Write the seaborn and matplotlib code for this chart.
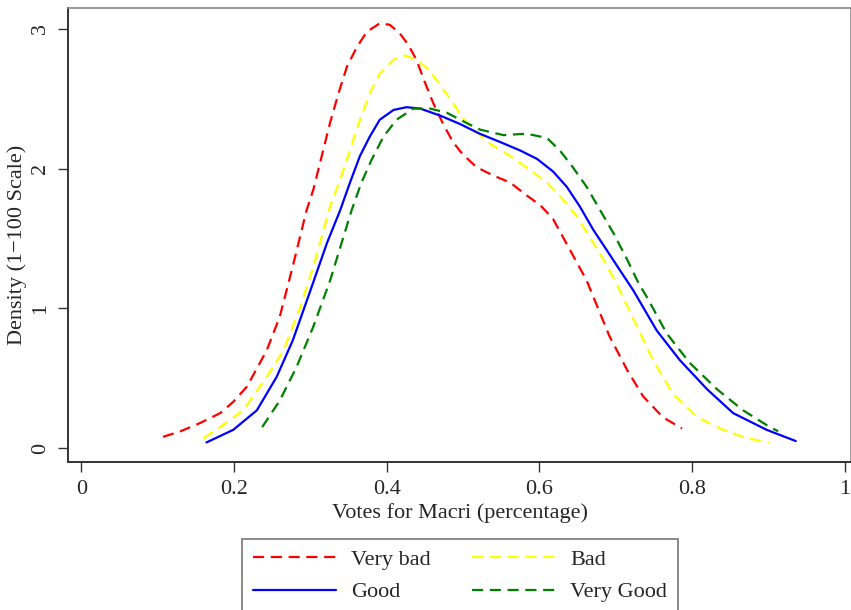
import numpy as np
import pandas as pd
import matplotlib
matplotlib.use("Agg")
import matplotlib.pyplot as plt
import seaborn as sns

# values (density curves)
very_bad_x = [0.107, 0.130, 0.156, 0.182, 0.199, 0.217, 0.243, 0.260, 0.277, 0.295, 0.304,
              0.315, 0.326, 0.337, 0.348, 0.361, 0.374, 0.391, 0.404, 0.417, 0.428, 0.439,
              0.450, 0.461, 0.474, 0.487, 0.500, 0.518, 0.540, 0.562, 0.583, 0.601, 0.618,
              0.631, 0.645, 0.662, 0.692, 0.715, 0.736, 0.762, 0.787]
very_bad_y = [0.08, 0.12, 0.18, 0.25, 0.33, 0.44, 0.70, 0.94, 1.30, 1.70, 1.85,
              2.09, 2.33, 2.54, 2.73, 2.87, 2.98, 3.04, 3.03, 2.97, 2.89, 2.78,
              2.62, 2.47, 2.32, 2.19, 2.10, 2.01, 1.95, 1.90, 1.81, 1.74, 1.64,
              1.51, 1.37, 1.20, 0.80, 0.56, 0.37, 0.22, 0.14]

bad_x = [0.160, 0.182, 0.212, 0.243, 0.265, 0.287, 0.304, 0.326, 0.339, 0.352, 0.365,
         0.378, 0.391, 0.409, 0.424, 0.439, 0.455, 0.470, 0.487, 0.500, 0.514, 0.535,
         0.562, 0.588, 0.610, 0.631, 0.649, 0.666, 0.684, 0.701, 0.728, 0.749, 0.775,
         0.807, 0.841, 0.872, 0.901]
bad_y = [0.07, 0.15, 0.27, 0.51, 0.70, 1.01, 1.30, 1.73, 1.92, 2.13, 2.35,
         2.54, 2.68, 2.78, 2.81, 2.78, 2.71, 2.60, 2.47, 2.36, 2.28, 2.18,
         2.09, 1.99, 1.90, 1.78, 1.66, 1.51, 1.35, 1.18, 0.87, 0.63, 0.39,
         0.22, 0.13, 0.07, 0.04]

good_x = [0.164, 0.199, 0.230, 0.256, 0.277, 0.299, 0.322, 0.339, 0.352, 0.365, 0.378,
          0.391, 0.409, 0.426, 0.444, 0.470, 0.496, 0.522, 0.549, 0.575, 0.597, 0.618,
          0.636, 0.653, 0.671, 0.688, 0.706, 0.723, 0.754, 0.784, 0.820, 0.854, 0.898,
          0.936]
good_y = [0.04, 0.13, 0.27, 0.51, 0.77, 1.11, 1.47, 1.70, 1.90, 2.09, 2.23,
          2.35, 2.42, 2.44, 2.43, 2.38, 2.32, 2.25, 2.19, 2.13, 2.07, 1.98,
          1.87, 1.73, 1.56, 1.42, 1.27, 1.13, 0.84, 0.63, 0.42, 0.25, 0.13,
          0.05]

very_good_x = [0.237, 0.260, 0.282, 0.304, 0.326, 0.354, 0.367, 0.380, 0.396, 0.413, 0.435,
               0.457, 0.479, 0.500, 0.522, 0.553, 0.583, 0.610, 0.627, 0.644, 0.662, 0.680,
               0.697, 0.715, 0.730, 0.741, 0.767, 0.797, 0.833, 0.867, 0.902, 0.913]
very_good_y = [0.15, 0.34, 0.58, 0.87, 1.20, 1.70, 1.90, 2.06, 2.23, 2.35, 2.43,
               2.43, 2.40, 2.34, 2.28, 2.24, 2.25, 2.22, 2.13, 2.01, 1.87, 1.70,
               1.54, 1.35, 1.18, 1.08, 0.82, 0.61, 0.42, 0.27, 0.15, 0.12]

x_ticks = [0, 0.2, 0.4, 0.6, 0.8, 1]
x_tick_labels = ["0", "0.2", "0.4", "0.6", "0.8", "1"]
y_ticks = [0, 1, 2, 3]

sns.set_style("white")
plt.rcParams['font.family'] = ['Liberation Serif', 'DejaVu Serif']

fig = plt.figure(figsize=(8.51, 6.10), dpi=100)
ax = fig.add_axes([68 / 851, 1 - 462 / 610, (851 - 68) / 851, (462 - 8) / 610])

series = [
    ("Very bad", very_bad_x, very_bad_y, "#ff0000", (5, 3)),
    ("Bad", bad_x, bad_y, "#ffff00", (5, 3)),
    ("Good", good_x, good_y, "#0000ff", None),
    ("Very Good", very_good_x, very_good_y, "#008000", (5, 3)),
]
handles = {}
for name, xs, ys, col, dash in series:
    df = pd.DataFrame({"x": xs, "y": ys})
    sns.lineplot(data=df, x="x", y="y", ax=ax, color=col, linewidth=1.6, label=name)
    line = ax.lines[-1]
    line.set_solid_joinstyle("round")
    line.set_dash_joinstyle("round")
    if dash is not None:
        line.set_dashes(dash)
    handles[name] = line

ax.set_xlim((68 - 81.3) / 763.3, (851 - 81.3) / 763.3)
ax.set_ylim(-0.10, 3.15)
ax.set_xticks(x_ticks)
ax.set_xticklabels(x_tick_labels)
ax.set_yticks(y_ticks)
ax.set_yticklabels([str(v) for v in y_ticks], rotation=90, va="center")
ax.tick_params(axis="both", direction="out", length=7, width=1, color="#333333",
               labelsize=16, pad=6, bottom=True, left=True)
for s in ["left", "bottom"]:
    ax.spines[s].set_color("#333333")
    ax.spines[s].set_linewidth(1.4)
for s in ["top", "right"]:
    ax.spines[s].set_color("#888888")
    ax.spines[s].set_linewidth(1.2)
ax.set_xlabel("Votes for Macri (percentage)", fontsize=16, labelpad=3)
ax.set_ylabel("Density (1\u2212100 Scale)", fontsize=16)
ax.yaxis.set_label_coords(-0.052, 0.478)
ax.get_legend().remove()

order = ["Very bad", "Good", "Bad", "Very Good"]
leg = fig.legend([handles[k] for k in order], order, loc="center",
                 bbox_to_anchor=(460 / 851, 1 - 576 / 610), ncol=2, fontsize=16,
                 handlelength=3.75, columnspacing=1.9, handletextpad=0.65,
                 labelspacing=0.52, frameon=True, fancybox=False,
                 borderpad=0.5, borderaxespad=0)
leg.get_frame().set_edgecolor("#555555")
leg.get_frame().set_linewidth(1.2)

fig.savefig("out.png", dpi=100)
